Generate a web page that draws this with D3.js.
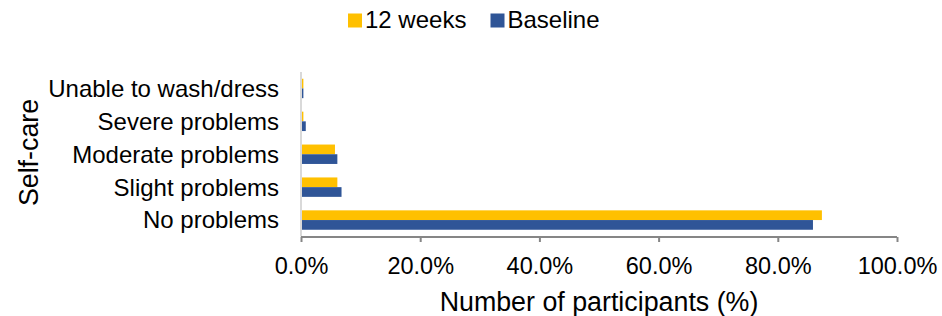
<!DOCTYPE html>
<html>
<head>
<meta charset="utf-8">
<script src="https://cdn.jsdelivr.net/npm/d3@7"></script>
<style>
    body { margin: 0; background: #fff; }
    svg { display: block; font-family: "Liberation Sans", Arial, sans-serif; }
</style>
</head>
<body>
<div id="chart"></div>
<script>
// chart data
const categories = ['Unable to wash/dress', 'Severe problems', 'Moderate problems', 'Slight problems', 'No problems'];
const series = ['12 weeks', 'Baseline'];
const weeks12 = [0.4, 0.4, 5.7, 6.1, 87.4];
const baseline = [0.4, 0.8, 6.1, 6.8, 85.9];
const xTicks = [0, 20, 40, 60, 80, 100];
const colors = ['#FFC000', '#2F5597'];

const width = 942, height = 316;
const margin = {top: 72, left: 301, right: 45, bottom: 79.5};
const fontSize = 24;      // category labels, legend
const tickSize = 23.5;    // x tick labels
const titleSize = 26.8;   // axis titles

let svg = d3.select('#chart').append('svg')
    .attr('width', width)
    .attr('height', height);

let x = d3.scaleLinear()
    .domain([0, 100])
    .range([margin.left, width - margin.right]);

let y = d3.scaleBand()
    .domain(categories)
    .range([margin.top, height - margin.bottom])
    .paddingInner(0.41)
    .paddingOuter(0.205);

let sub = d3.scaleBand()
    .domain(series)
    .range([0, y.bandwidth()]);

// bars
let rows = categories.map(function(c, i) {
    return {cat: c, vals: [weeks12[i], baseline[i]]};
});

let g = svg.append('g');
rows.forEach(function(r) {
    g.selectAll(null)
        .data(r.vals)
        .join('rect')
        .attr('x', x(0) + 1)
        .attr('y', function(d, i) { return y(r.cat) + sub(series[i]); })
        .attr('width', function(d) { return x(d) - x(0) - 1; })
        .attr('height', sub.bandwidth())
        .attr('fill', function(d, i) { return colors[i]; });
});

// left axis line (light)
svg.append('line')
    .attr('x1', x(0)).attr('x2', x(0))
    .attr('y1', margin.top).attr('y2', height - margin.bottom)
    .attr('stroke', '#d9d9d9')
    .attr('stroke-width', 2);

// category labels
svg.append('g')
    .selectAll('text')
    .data(categories)
    .join('text')
    .attr('x', x(0) - 22)
    .attr('y', function(d) { return y(d) + y.bandwidth() / 2; })
    .attr('dy', '0.35em')
    .attr('text-anchor', 'end')
    .attr('font-size', fontSize)
    .attr('fill', '#000')
    .text(function(d) { return d; });

// bottom axis
let axisY = height - margin.bottom + 0.5;
let xAxis = svg.append('g')
    .attr('transform', `translate(0,${axisY})`)
    .call(d3.axisBottom(x).tickValues(xTicks).tickSize(5).tickPadding(0)
        .tickFormat(function(d) { return d.toFixed(1) + '%'; }));

xAxis.select('.domain')
    .attr('stroke', '#868686')
    .attr('stroke-width', 2)
    .attr('d', `M${x(0)},0H${x(100)}`);
xAxis.selectAll('.tick line')
    .attr('stroke', '#868686')
    .attr('stroke-width', 2);
xAxis.selectAll('.tick text')
    .attr('y', 273.5 - axisY)
    .attr('dy', 0)
    .attr('font-size', tickSize)
    .attr('font-family', '"Liberation Sans", Arial, sans-serif')
    .attr('fill', '#000');

// axis titles
svg.append('text')
    .attr('x', (x(0) + x(100)) / 2)
    .attr('y', 310.5)
    .attr('text-anchor', 'middle')
    .attr('font-size', titleSize)
    .text('Number of participants (%)');

svg.append('text')
    .attr('transform', 'translate(38,152.5) rotate(-90)')
    .attr('text-anchor', 'middle')
    .attr('font-size', titleSize)
    .text('Self-care');

// legend
let legendX = [348, 490.5];
let legend = svg.append('g')
    .selectAll('g')
    .data(series)
    .join('g')
    .attr('transform', function(d, i) { return `translate(${legendX[i]},0)`; });

legend.append('rect')
    .attr('x', 0)
    .attr('y', 13.5)
    .attr('width', 14)
    .attr('height', 14)
    .attr('fill', function(d, i) { return colors[i]; });

legend.append('text')
    .attr('x', 17)
    .attr('y', 28)
    .attr('font-size', fontSize)
    .text(function(d) { return d; });
</script>
</body>
</html>
